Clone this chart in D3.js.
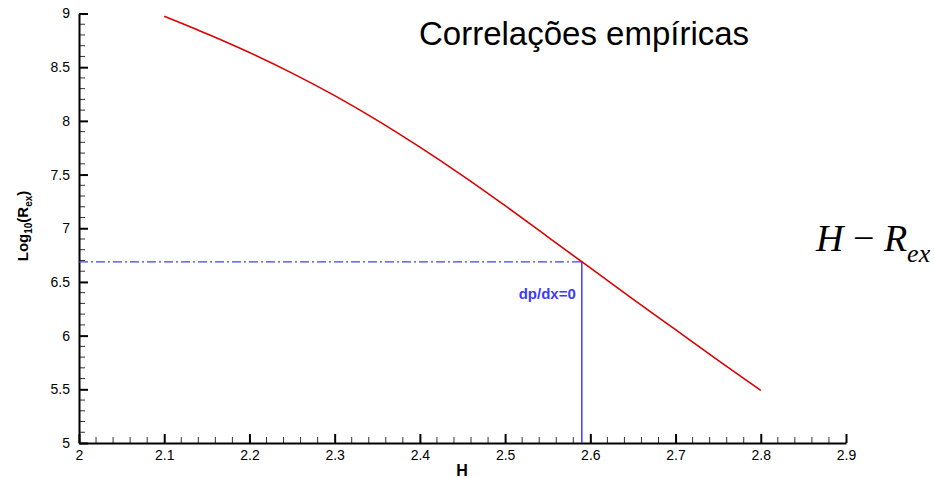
<!DOCTYPE html>
<html>
<head>
<meta charset="utf-8">
<script src="https://cdn.jsdelivr.net/npm/d3@7"></script>
<style>
  body { margin: 0; background: #fff; }
  svg { display: block; font-family: "Liberation Sans", Arial, sans-serif; }
</style>
</head>
<body>
<div id="chart"></div>
<script>
const width = 934;
const height = 478;

// curve H vs log10(Rex)
const hValues = [2.10, 2.15, 2.20, 2.25, 2.30, 2.35, 2.40, 2.45, 2.50, 2.55, 2.60, 2.65, 2.70, 2.75, 2.80];
const logRex = [8.975, 8.812, 8.637, 8.445, 8.235, 8.005, 7.755, 7.49, 7.21, 6.92, 6.63, 6.34, 6.055, 5.77, 5.49];

// dp/dx = 0 marker
const markerH = 2.59;
const markerLog = 6.687;

const xTicks = [2, 2.1, 2.2, 2.3, 2.4, 2.5, 2.6, 2.7, 2.8, 2.9];
const yTicks = [5, 5.5, 6, 6.5, 7, 7.5, 8, 8.5, 9];

const data = hValues.map((h, i) => ({ h: h, v: logRex[i] }));

const margin = { top: 13.5, left: 79, right: 88, bottom: 35 };

const x = d3.scaleLinear().domain([2, 2.9]).range([margin.left, width - margin.right]);
const y = d3.scaleLinear().domain([5, 9]).range([height - margin.bottom, margin.top]);

const svg = d3.select("#chart").append("svg").attr("width", width).attr("height", height);

// minor ticks
const xMinor = d3.range(2, 2.9001, 0.02).filter(d => Math.abs(d * 10 - Math.round(d * 10)) > 1e-6);
const yMinor = d3.range(5, 9.0001, 0.1).filter(d => Math.abs(d * 2 - Math.round(d * 2)) > 1e-6);

svg.selectAll("line.xminor")
    .data(xMinor)
    .join("line")
    .attr("class", "xminor")
    .attr("x1", d => x(d)).attr("x2", d => x(d))
    .attr("y1", y(5)).attr("y2", y(5) - 6)
    .attr("stroke", "#333").attr("stroke-width", 1);

svg.selectAll("line.yminor")
    .data(yMinor)
    .join("line")
    .attr("class", "yminor")
    .attr("y1", d => y(d)).attr("y2", d => y(d))
    .attr("x1", x(2)).attr("x2", x(2) + 6)
    .attr("stroke", "#333").attr("stroke-width", 1);

// axes
const xAxis = d3.axisBottom(x).tickValues(xTicks).tickSizeInner(-9).tickSizeOuter(0).tickPadding(7).tickFormat(d3.format("~g"));
const yAxis = d3.axisLeft(y).tickValues(yTicks).tickSizeInner(-9).tickSizeOuter(0).tickPadding(9).tickFormat(d3.format("~g"));

const gx = svg.append("g").attr("transform", `translate(0,${y(5)})`).call(xAxis);
const gy = svg.append("g").attr("transform", `translate(${x(2)},0)`).call(yAxis);

[gx, gy].forEach(g => {
    g.select(".domain").attr("stroke", "#000").attr("stroke-width", 2);
    g.selectAll(".tick line").attr("stroke", "#000").attr("stroke-width", 2);
    g.selectAll(".tick text").attr("fill", "#000").style("font-size", "14px")
        .style("font-family", "Liberation Sans, Arial, sans-serif");
});

// marker lines
svg.append("line")
    .attr("x1", x(2)).attr("x2", x(markerH))
    .attr("y1", y(markerLog)).attr("y2", y(markerLog))
    .attr("stroke", "#3f3fff").attr("stroke-width", 1.2)
    .attr("stroke-dasharray", "9,3,2,3");

svg.append("line")
    .attr("x1", x(markerH)).attr("x2", x(markerH))
    .attr("y1", y(markerLog)).attr("y2", y(5))
    .attr("stroke", "#3f3fff").attr("stroke-width", 1.5);

svg.append("text")
    .attr("x", x(markerH) - 6).attr("y", 299)
    .attr("text-anchor", "end")
    .style("font-size", "15px").style("font-weight", "bold")
    .attr("fill", "#3b3bff")
    .text("dp/dx=0");

// curve
const line = d3.line().x(d => x(d.h)).y(d => y(d.v)).curve(d3.curveCatmullRom);
svg.append("path")
    .datum(data)
    .attr("fill", "none")
    .attr("stroke", "#dd0000")
    .attr("stroke-width", 1.6)
    .attr("d", line);

// axis titles
svg.append("text")
    .attr("x", 462).attr("y", 476)
    .attr("text-anchor", "middle")
    .style("font-size", "16px").style("font-weight", "bold")
    .text("H");

const yl = svg.append("text")
    .attr("transform", "translate(28,226) rotate(-90)")
    .attr("text-anchor", "middle")
    .style("font-size", "15px").style("font-weight", "bold");
yl.append("tspan").text("Log");
yl.append("tspan").attr("dy", 4).style("font-size", "10px").text("10");
yl.append("tspan").attr("dy", -4).text("(R");
yl.append("tspan").attr("dy", 4).style("font-size", "10px").text("ex");
yl.append("tspan").attr("dy", -4).text(")");

// title
svg.append("text")
    .attr("x", 419).attr("y", 44.5)
    .style("font-size", "33px")
    .text("Correlações empíricas");

// formula
const f = svg.append("text")
    .attr("x", 816).attr("y", 251)
    .style("font-family", "Liberation Serif, Times New Roman, serif")
    .style("font-size", "38px");
f.append("tspan").style("font-style", "italic").text("H");
f.append("tspan").text(" \u2212 ");
f.append("tspan").style("font-style", "italic").text("R");
f.append("tspan").attr("dy", 11).style("font-style", "italic").style("font-size", "26px").text("ex");
</script>
</body>
</html>
